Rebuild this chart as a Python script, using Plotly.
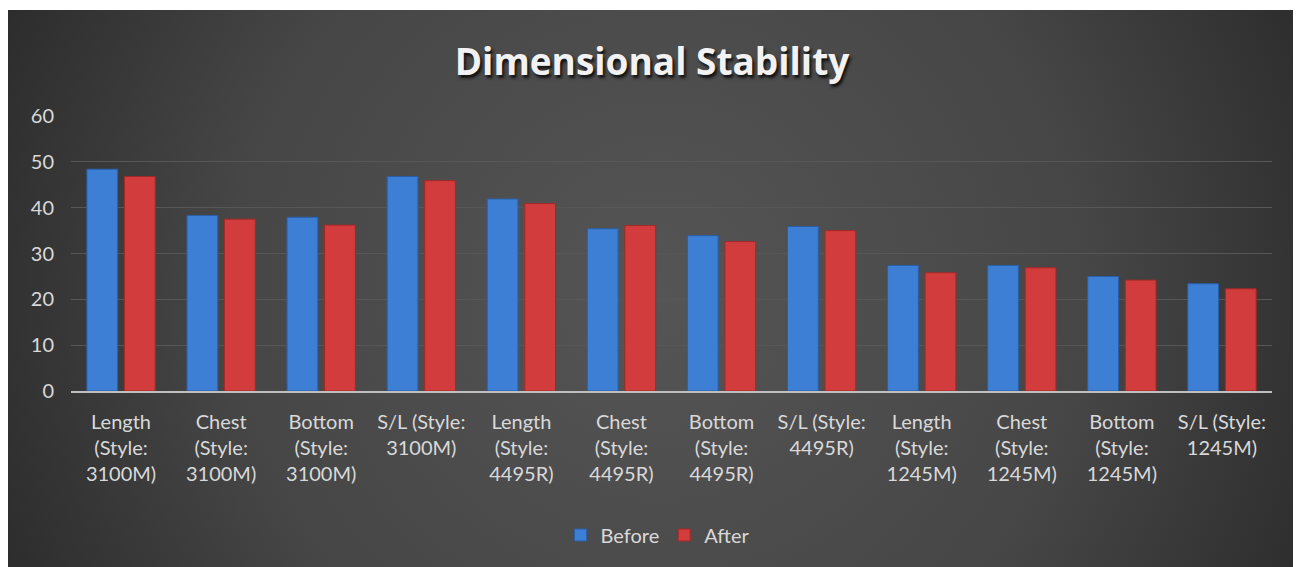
import base64
import plotly.graph_objects as go

categories = [
    "Length<br>(Style:<br>3100M)", "Chest<br>(Style:<br>3100M)", "Bottom<br>(Style:<br>3100M)", "S/L (Style:<br>3100M)",
    "Length<br>(Style:<br>4495R)", "Chest<br>(Style:<br>4495R)", "Bottom<br>(Style:<br>4495R)", "S/L (Style:<br>4495R)",
    "Length<br>(Style:<br>1245M)", "Chest<br>(Style:<br>1245M)", "Bottom<br>(Style:<br>1245M)", "S/L (Style:<br>1245M)",
]
before = [48.4, 38.3, 37.9, 46.8, 41.9, 35.4, 33.9, 35.9, 27.4, 27.4, 25.0, 23.4]
after = [46.8, 37.5, 36.2, 45.9, 40.9, 36.1, 32.6, 35.0, 25.8, 26.9, 24.2, 22.3]
y_ticks = [0, 10, 20, 30, 40, 50, 60]

# page is offset by the 8px body margin
W, H = 1301, 567
ML, MT = 63, 108
plot_right, plot_bottom = 1264, 383
MR, MB = W - plot_right, H - plot_bottom
pw, ph = W - ML - MR, H - MT - MB

svg = '''<svg xmlns="http://www.w3.org/2000/svg" width="1294" height="557" viewBox="0 0 1294 557" preserveAspectRatio="none">
<defs><radialGradient id="g" cx="50%" cy="50%" r="60%" gradientTransform="translate(0.5 0.5) scale(1 2.3) translate(-0.5 -0.5)">
<stop offset="0%" stop-color="#555555"/><stop offset="55%" stop-color="#464646"/><stop offset="100%" stop-color="#262626"/></radialGradient></defs>
<rect width="1294" height="557" fill="url(#g)"/></svg>'''
src = "data:image/svg+xml;base64," + base64.b64encode(svg.encode()).decode()

font = "Lato, 'Open Sans', sans-serif"

fig = go.Figure()
fig.add_trace(go.Bar(name="Before", x=categories, y=before,
                     marker=dict(color="#3c7fd4", line=dict(color="#2a5fa8", width=1))))
fig.add_trace(go.Bar(name="After", x=categories, y=after,
                     marker=dict(color="#d23c3c", line=dict(color="#a42828", width=1))))

x0 = (-1 - ML) / pw
x1 = (W - ML) / pw
y1 = 1 + (MT - 2) / ph
y0 = -(MB) / ph

fig.update_layout(
    width=W, height=H,
    margin=dict(l=ML, r=MR, t=MT, b=MB),
    paper_bgcolor="white",
    plot_bgcolor="rgba(0,0,0,0)",
    barmode="group", bargap=0.25, bargroupgap=0.18,
    images=[dict(source=src, xref="paper", yref="paper", x=x0, y=y1,
                 sizex=x1 - x0, sizey=y1 - y0, xanchor="left", yanchor="top",
                 sizing="stretch", layer="below")],
    title=dict(text="<b>Dimensional Stability</b>", x=(644 - ML) / pw, xref="paper", xanchor="center",
               y=1 - 54 / H, yanchor="middle",
               font=dict(family="'Open Sans', sans-serif", size=37, color="#f2f2f2",
                         shadow="2px 3px 3px #111")),
    font=dict(family=font, color="#d9d9d9", size=20),
    legend=dict(orientation="h", x=(650 - ML) / pw, xanchor="center",
                y=-(527 - plot_bottom) / ph, yanchor="middle",
                font=dict(size=20, color="#d9d9d9"), bgcolor="rgba(0,0,0,0)",
                itemwidth=30, tracegroupgap=0),
    yaxis=dict(range=[0, 60], tickvals=y_ticks, showgrid=True, gridcolor="#575757",
               gridwidth=1, zeroline=False, showline=False, ticks="",
               tickfont=dict(size=20, color="#d9d9d9"), ticklabelstandoff=16),
    xaxis=dict(showline=True, linecolor="#bfbfbf", linewidth=2, ticks="",
               tickfont=dict(size=20, color="#d9d9d9"), tickangle=0,
               ticklabelstandoff=12),
    showlegend=True,
)

fig.write_html("out.html")
